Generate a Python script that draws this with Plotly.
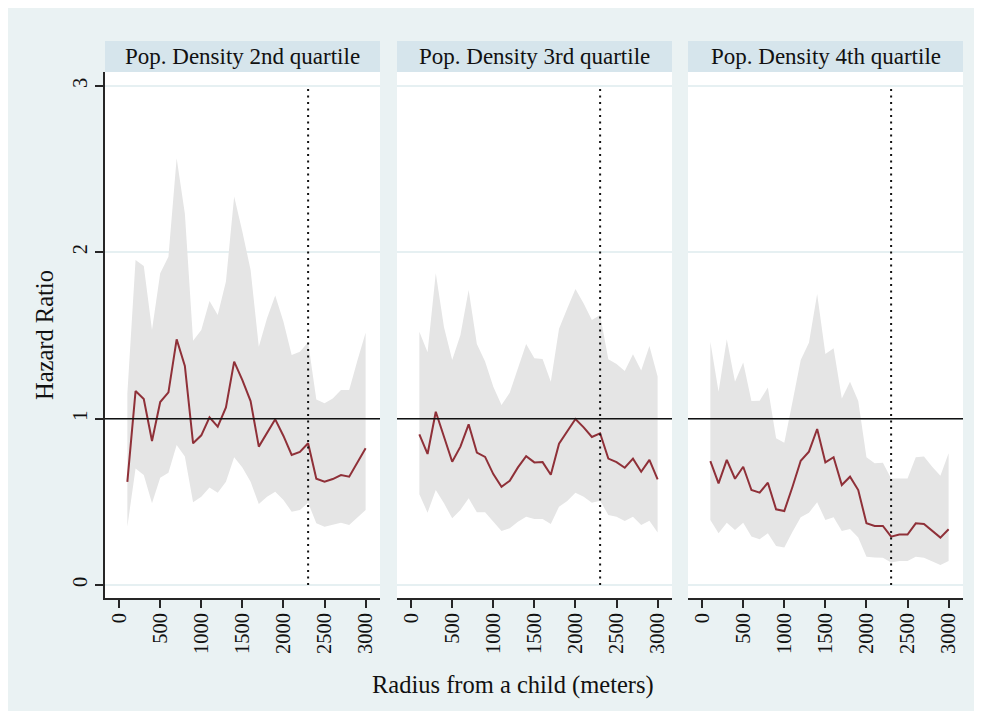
import plotly.graph_objects as go

# ---------------- data ----------------
radius = [100, 200, 300, 400, 500, 600, 700, 800, 900, 1000,
          1100, 1200, 1300, 1400, 1500, 1600, 1700, 1800, 1900, 2000,
          2100, 2200, 2300, 2400, 2500, 2600, 2700, 2800, 2900, 3000]

panel_titles = ["Pop. Density 2nd quartile", "Pop. Density 3rd quartile", "Pop. Density 4th quartile"]

hr_q2 = [0.62, 1.166, 1.118, 0.866, 1.10, 1.158, 1.477, 1.317, 0.852, 0.90,
         1.008, 0.952, 1.068, 1.343, 1.232, 1.106, 0.832, 0.916, 0.996, 0.896,
         0.782, 0.80, 0.852, 0.639, 0.621, 0.637, 0.661, 0.651, 0.735, 0.822]
lo_q2 = [0.351, 0.701, 0.661, 0.491, 0.645, 0.675, 0.842, 0.772, 0.497, 0.531,
         0.587, 0.555, 0.621, 0.768, 0.707, 0.621, 0.487, 0.531, 0.561, 0.511,
         0.441, 0.451, 0.495, 0.371, 0.351, 0.361, 0.375, 0.361, 0.407, 0.451]
hi_q2 = [1.15, 1.954, 1.918, 1.533, 1.874, 1.974, 2.565, 2.234, 1.469, 1.533,
         1.707, 1.623, 1.824, 2.335, 2.124, 1.894, 1.433, 1.603, 1.740, 1.583,
         1.383, 1.403, 1.46, 1.116, 1.092, 1.122, 1.172, 1.172, 1.35, 1.517]

hr_q3 = [0.906, 0.788, 1.042, 0.89, 0.741, 0.832, 0.966, 0.796, 0.770, 0.667,
         0.591, 0.627, 0.707, 0.774, 0.737, 0.739, 0.663, 0.850, 0.922, 0.998,
         0.948, 0.890, 0.912, 0.760, 0.739, 0.705, 0.760, 0.681, 0.752, 0.635]
lo_q3 = [0.545, 0.435, 0.571, 0.491, 0.401, 0.451, 0.521, 0.437, 0.437, 0.381,
         0.325, 0.341, 0.381, 0.411, 0.397, 0.397, 0.367, 0.471, 0.505, 0.555,
         0.531, 0.495, 0.507, 0.421, 0.411, 0.385, 0.411, 0.361, 0.387, 0.315]
hi_q3 = [1.523, 1.40, 1.874, 1.55, 1.353, 1.503, 1.774, 1.449, 1.343, 1.192,
         1.082, 1.156, 1.303, 1.449, 1.363, 1.359, 1.222, 1.54, 1.663, 1.780,
         1.693, 1.593, 1.623, 1.357, 1.329, 1.287, 1.387, 1.289, 1.437, 1.253]

hr_q4 = [0.745, 0.611, 0.752, 0.639, 0.711, 0.571, 0.555, 0.615, 0.455, 0.445,
         0.591, 0.747, 0.802, 0.938, 0.737, 0.768, 0.601, 0.651, 0.571, 0.371,
         0.355, 0.355, 0.291, 0.303, 0.303, 0.371, 0.367, 0.325, 0.285, 0.335]
lo_q4 = [0.391, 0.311, 0.375, 0.331, 0.375, 0.291, 0.275, 0.311, 0.234, 0.226,
         0.321, 0.407, 0.435, 0.497, 0.391, 0.407, 0.325, 0.337, 0.285, 0.170,
         0.166, 0.164, 0.136, 0.144, 0.144, 0.170, 0.164, 0.140, 0.120, 0.144]
hi_q4 = [1.463, 1.162, 1.477, 1.222, 1.337, 1.106, 1.108, 1.188, 0.882, 0.856,
         1.102, 1.353, 1.457, 1.749, 1.389, 1.423, 1.122, 1.222, 1.106, 0.768,
         0.732, 0.735, 0.641, 0.641, 0.641, 0.768, 0.772, 0.711, 0.657, 0.792]

x_ticks = [0, 500, 1000, 1500, 2000, 2500, 3000]
y_ticks = [0, 1, 2, 3]
cutoff_radius = 2300
reference_hr = 1

panels = [(hr_q2, lo_q2, hi_q2), (hr_q3, lo_q3, hi_q3), (hr_q4, lo_q4, hi_q4)]

# ---------------- style ----------------
# the page body adds an 8px offset; layout below is expressed in screen pixels
OFF = 8
W, H = 982 - OFF, 718 - OFF
PLOT_L, PLOT_R, PLOT_T, PLOT_B = 105, 963, 72, 598  # screen pixels
ML, MR, MT, MB = PLOT_L - OFF, W - (PLOT_R - OFF), PLOT_T - OFF, H - (PLOT_B - OFF)
PW, PH = PLOT_R - PLOT_L, PLOT_B - PLOT_T
FONT = "Liberation Serif"
OUTER_BG = "#EAF2F3"
STRIP_BG = "#D6E5EC"
GRID = "#E6F0F2"
BAND = "#E5E5E5"
LINE = "#8F3038"
AXIS = "#262626"

panel_px = [(105, 380), (397, 672), (688, 963)]


def px_x(p):
    return (p - PLOT_L) / PW


def px_y(p):
    return (PLOT_B - p) / PH


domains = [(px_x(a), px_x(b)) for a, b in panel_px]

fig = go.Figure()
shapes = []
annotations = []

# outer background
shapes.append(dict(type="rect", xref="paper", yref="paper", layer="below",
                   x0=px_x(8), x1=px_x(975), y0=px_y(711), y1=px_y(7),
                   fillcolor=OUTER_BG, line=dict(width=0)))

for i, (hr, lo, hi) in enumerate(panels):
    n = "" if i == 0 else str(i + 1)
    xa, ya = "x" + n, "y" + n
    d0, d1 = domains[i]
    shapes.append(dict(type="rect", xref="paper", yref="paper", layer="below",
                       x0=d0, x1=d1, y0=0, y1=1, fillcolor="white", line=dict(width=0)))
    shapes.append(dict(type="rect", xref="paper", yref="paper", layer="below",
                       x0=d0, x1=d1, y0=1, y1=px_y(41), fillcolor=STRIP_BG, line=dict(width=0)))
    annotations.append(dict(text=panel_titles[i], xref="paper", yref="paper",
                            x=(d0 + d1) / 2, y=px_y(56.5), showarrow=False,
                            xanchor="center", yanchor="middle",
                            font=dict(family=FONT, size=23, color="#111")))
    fig.add_trace(go.Scatter(x=radius, y=lo, mode="lines", line=dict(width=0, color=BAND),
                             xaxis=xa, yaxis=ya, showlegend=False, hoverinfo="skip"))
    fig.add_trace(go.Scatter(x=radius, y=hi, mode="lines", line=dict(width=0, color=BAND),
                             fill="tonexty", fillcolor=BAND,
                             xaxis=xa, yaxis=ya, showlegend=False, hoverinfo="skip"))
    shapes.append(dict(type="line", xref=xa + " domain", yref=ya, x0=0, x1=1,
                       y0=reference_hr, y1=reference_hr, layer="above",
                       line=dict(color="#111", width=1.5)))
    shapes.append(dict(type="line", xref=xa, yref=ya, x0=cutoff_radius, x1=cutoff_radius,
                       y0=0, y1=3, layer="above",
                       line=dict(color="#111", width=2, dash="2px,4.5px")))
    fig.add_trace(go.Scatter(x=radius, y=hr, mode="lines", line=dict(width=2, color=LINE),
                             xaxis=xa, yaxis=ya, showlegend=False))

    fig.layout["xaxis" + n] = dict(
        domain=[d0, d1], anchor=ya, range=[-172, 3175],
        tickvals=x_ticks, ticktext=[str(v) for v in x_ticks], tickangle=-90,
        ticks="outside", ticklen=8, tickwidth=1.5, tickcolor=AXIS,
        showline=True, linecolor=AXIS, linewidth=1.5, showgrid=False, zeroline=False,
        ticklabelstandoff=-3,
        tickfont=dict(family=FONT, size=20.5, color="#111"),
    )
    yax = dict(
        domain=[0, 1], anchor=xa, range=[-0.078, 3.084],
        tickvals=y_ticks, showgrid=True, gridcolor=GRID, gridwidth=2, zeroline=False,
    )
    if i == 0:
        yax.update(ticks="outside", ticklen=8, tickwidth=1.5, tickcolor=AXIS,
                   showline=True, linecolor=AXIS, linewidth=1.5, tickangle=-90,
                   ticktext=[str(v) for v in y_ticks],
                   tickfont=dict(family=FONT, size=20.5, color="#111"))
    else:
        yax.update(showticklabels=False, ticks="", showline=False)
    fig.layout["yaxis" + n] = yax

annotations.append(dict(text="Hazard Ratio", xref="paper", yref="paper",
                        x=px_x(44), y=px_y(335), textangle=-90, showarrow=False,
                        xanchor="center", yanchor="middle",
                        font=dict(family=FONT, size=24.5, color="#111")))
annotations.append(dict(text="Radius from a child (meters)", xref="paper", yref="paper",
                        x=px_x(513), y=px_y(685), showarrow=False,
                        xanchor="center", yanchor="middle",
                        font=dict(family=FONT, size=24.5, color="#111")))

fig.update_layout(width=W, height=H, margin=dict(l=ML, r=MR, t=MT, b=MB),
                  paper_bgcolor="white", plot_bgcolor="white",
                  shapes=shapes, annotations=annotations, showlegend=False)

fig.write_html("out.html")
